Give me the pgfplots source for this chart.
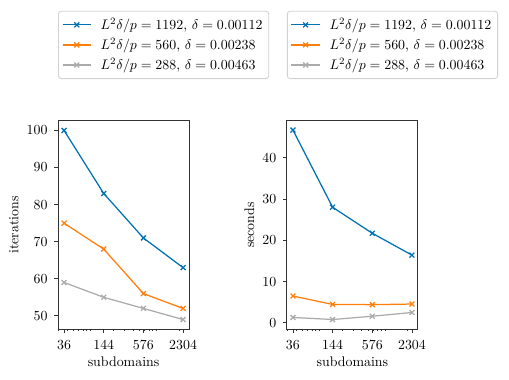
\documentclass[border=0pt]{standalone}
\usepackage{pgfplots}
\pgfplotsset{compat=1.18}

\definecolor{cblue}{HTML}{0072B2}
\definecolor{corange}{HTML}{FF7F0E}
\definecolor{cgray}{HTML}{ABABAB}
\definecolor{spine}{HTML}{333333}

\pgfplotsset{
  every axis/.append style={
    scale only axis, width=94.3pt, height=149.8pt,
    xmin=29.2, xmax=2836,
    axis line style={spine, line width=0.7pt},
    tick style={spine, line width=0.6pt},
    tick align=outside, xtick pos=bottom, ytick pos=left,
    major tick length=2.6pt, minor tick length=1.5pt,
    xticklabel style={yshift=-2pt},
    yticklabel style={xshift=-1.5pt},
    xlabel style={yshift=2pt},
    ylabel style={yshift=-1pt},
    legend cell align=left,
    legend style={at={(0,1)}, anchor=south west, yshift=30.2pt,
      draw=black!18, rounded corners=2pt, line width=0.6pt,
      font=\normalsize, row sep=0.8pt, inner xsep=2.5pt, inner ysep=3pt},
    legend image code/.code={
      \draw[mark repeat=2, mark phase=2] plot coordinates {(0cm,0cm) (0.36cm,0cm) (0.72cm,0cm)};
      \path (0.72cm+4.5pt,0pt);
    },
  },
  every axis plot/.append style={line width=0.9pt, mark=x, mark size=2.5pt, mark options={solid}},
}

\begin{document}
\begin{tikzpicture}
\path[use as bounding box] (0,0) rectangle (366.5pt,272.9pt);

\begin{axis}[at={(41.8pt,36pt)}, anchor=south west,
  xmode=log, log basis x=10,
  xtick={36,144,576,2304}, xticklabels={36,144,576,2304},
  minor xtick={30,40,50,60,70,80,90,200,300,400,500,600,700,800,900,2000},
  xlabel={subdomains},
  ymin=46.45, ymax=102.55, ytick={50,60,70,80,90,100},
  ylabel={iterations}]
  \addplot[cblue] coordinates {(36,100) (144,83) (576,71) (2304,63)};
  \addlegendentry{$L^2\delta/p = 1192$, $\delta = 0.00112$}
  \addplot[corange] coordinates {(36,75) (144,68) (576,56) (2304,52)};
  \addlegendentry{$L^2\delta/p = 560$, $\delta = 0.00238$}
  \addplot[cgray] coordinates {(36,59) (144,55) (576,52) (2304,49)};
  \addlegendentry{$L^2\delta/p = 288$, $\delta = 0.00463$}
\end{axis}

\begin{axis}[at={(206.6pt,36pt)}, anchor=south west,
  xmode=log, log basis x=10,
  xtick={36,144,576,2304}, xticklabels={36,144,576,2304},
  minor xtick={30,40,50,60,70,80,90,200,300,400,500,600,700,800,900,2000},
  xlabel={subdomains},
  ymin=-1.5, ymax=48.9, ytick={0,10,20,30,40},
  ylabel={seconds}]
  \addplot[cblue] coordinates {(36,46.7) (144,28.0) (576,21.7) (2304,16.4)};
  \addlegendentry{$L^2\delta/p = 1192$, $\delta = 0.00112$}
  \addplot[corange] coordinates {(36,6.5) (144,4.45) (576,4.4) (2304,4.55)};
  \addlegendentry{$L^2\delta/p = 560$, $\delta = 0.00238$}
  \addplot[cgray] coordinates {(36,1.3) (144,0.8) (576,1.6) (2304,2.5)};
  \addlegendentry{$L^2\delta/p = 288$, $\delta = 0.00463$}
\end{axis}
\end{tikzpicture}
\end{document}
